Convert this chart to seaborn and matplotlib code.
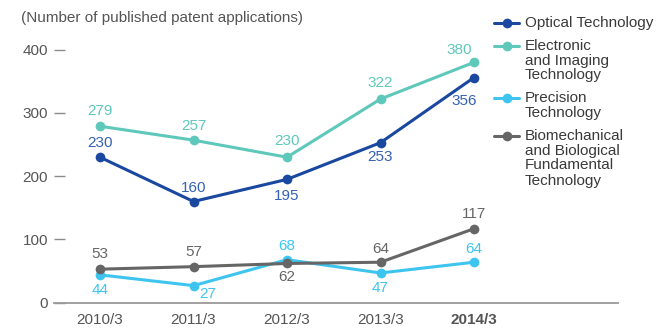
import matplotlib
matplotlib.use("Agg")
import matplotlib.pyplot as plt
from matplotlib.lines import Line2D
import seaborn as sns
import pandas as pd

# --- data -------------------------------------------------------------
years = ["2010/3", "2011/3", "2012/3", "2013/3", "2014/3"]
optical = [230, 160, 195, 253, 356]
electronic = [279, 257, 230, 322, 380]
precision = [44, 27, 68, 47, 64]
biomech = [53, 57, 62, 64, 117]

series_names = [
    "Optical Technology",
    "Electronic\nand Imaging\nTechnology",
    "Precision\nTechnology",
    "Biomechanical\nand Biological\nFundamental\nTechnology",
]
series_values = [optical, electronic, precision, biomech]

# --- styling ----------------------------------------------------------
line_colors = ["#1a48a0", "#5ec8bb", "#3ec5ef", "#666666"]
label_colors = ["#3561b4", "#5ec8bb", "#3ec5ef", "#666666"]
# value-label offsets in pixels (dx, dy; dy positive = up)
label_offsets = [
    [(0, 14), (0, 14), (0, -17), (0, -14), (-10, -23)],
    [(0, 15), (0, 14), (0, 16), (0, 16), (-15, 12)],
    [(0, -15), (14, -8), (0, 14), (0, -15), (0, 13)],
    [(0, 15), (0, 15), (0, -14), (0, 13), (0, 15)],
]

sns.set_theme(style="white")
plt.rcParams["font.family"] = ["Liberation Sans", "DejaVu Sans"]

W, H, DPI = 658, 328, 100
fig = plt.figure(figsize=(W / DPI, H / DPI), dpi=DPI)

left_px, right_px, base_px, top_px = 54, 618, 302.7, 30
ax = fig.add_axes([left_px / W, (H - base_px) / H,
                   (right_px - left_px) / W, (base_px - top_px) / H])

rows = []
for name, vals in zip(series_names, series_values):
    for i, v in enumerate(vals):
        rows.append({"x": i, "value": v, "series": name})
df = pd.DataFrame(rows)

sns.lineplot(data=df, x="x", y="value", hue="series", hue_order=series_names,
             palette=line_colors, marker="o", markersize=7,
             markeredgewidth=0, linewidth=2.2, legend=False, ax=ax,
             zorder=3)

px2pt = 72 / DPI
fs = 11
for s, vals in enumerate(series_values):
    for i, v in enumerate(vals):
        dx, dy = label_offsets[s][i]
        ax.annotate(str(v), (i, v), xytext=(dx * px2pt, dy * px2pt),
                    textcoords="offset points", ha="center", va="center",
                    fontsize=fs, color=label_colors[s], zorder=4)

ax.set_xlim((left_px - 100) / 93.5, (right_px - 100) / 93.5)
ax.set_ylim(0, (base_px - top_px) / 0.6325)
ax.set_yticks([0, 100, 200, 300, 400])
ax.set_xticks(range(len(years)))
ax.set_xticklabels(years)
for lab in ax.get_xticklabels():
    if lab.get_text() == "2014/3":
        lab.set_fontweight("bold")
        lab.set_color("#333333")
ax.set_xlabel("")
ax.set_ylabel("")

for side in ["left", "top", "right"]:
    ax.spines[side].set_visible(False)
ax.spines["bottom"].set_color("#9a9a9a")
ax.spines["bottom"].set_linewidth(1.3)

ax.tick_params(axis="y", direction="in", length=11 * px2pt, width=1.0,
               color="#8a8a8a", pad=6 * px2pt, labelsize=fs,
               labelcolor="#555555", left=True)
ax.tick_params(axis="x", length=0, pad=10 * px2pt, labelsize=fs,
               labelcolor="#555555")

fig.text(21 / W, 1 - 18 / H, "(Number of published patent applications)",
         ha="left", va="center", fontsize=fs, color="#555555")

# legend drawn at the right-hand side, marker beside the first line of each entry
line_step = 15
y = 23
for name, col in zip(series_names, line_colors):
    yf = 1 - y / H
    fig.add_artist(Line2D([494 / W, 519 / W], [yf, yf], color=col,
                          linewidth=2.2, transform=fig.transFigure))
    fig.add_artist(Line2D([506.5 / W], [yf], color=col, marker="o",
                          markersize=7, markeredgewidth=0,
                          transform=fig.transFigure))
    lines = name.split("\n")
    for k, txt in enumerate(lines):
        fig.text(525 / W, 1 - (y + k * line_step) / H, txt, ha="left",
                 va="center", fontsize=fs, color="#3a3a3a")
    y += (len(lines) - 1) * line_step + 22.5

fig.savefig("out.png", dpi=DPI)
